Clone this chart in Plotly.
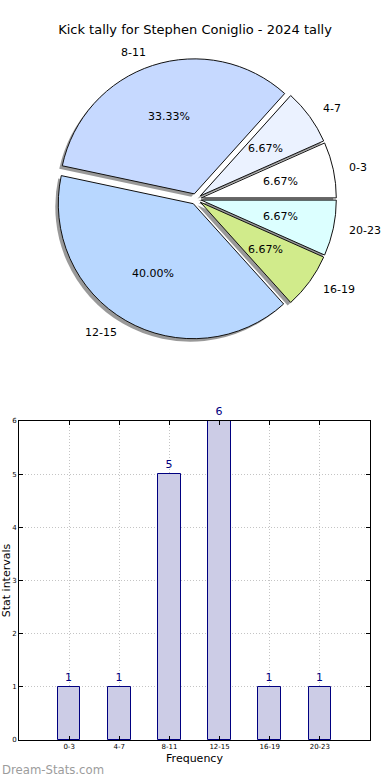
import math
import plotly.graph_objects as go

# ---- data ----
categories = ["0-3", "4-7", "8-11", "12-15", "16-19", "20-23"]
counts = [1, 1, 5, 6, 1, 1]
pie_colors = ["#ffffff", "#ebf2ff", "#c6d9ff", "#b8d7ff", "#d1eb8b", "#dcffff"]
title_text = "Kick tally for Stephen Coniglio - 2024 tally"
y_ticks = [0, 1, 2, 3, 4, 5, 6]

W, H = 390, 780
FONT = "DejaVu Sans"

# pie geometry (pixels)
cx, cy = 196.0, 199.0
R = 135.0
PULL = 0.04
half = R * (1 + PULL)


def px2paper(x, y):
    return x / W, 1 - y / H


dx0, dy0 = px2paper(cx - half, cy + half)
dx1, dy1 = px2paper(cx + half, cy - half)

total = sum(counts)
# plotly (counterclockwise) puts the end of the first slice at the rotation angle
rot = 90 - 360.0 * counts[0] / total

fig = go.Figure()

# shadow
sh = 3.0
fig.add_trace(go.Pie(
    values=counts, labels=categories, sort=False, direction="counterclockwise",
    rotation=rot, pull=[PULL] * len(counts), textinfo="none", hoverinfo="skip",
    marker=dict(colors=["rgba(70,70,70,0.55)"] * len(counts), line=dict(width=0)),
    domain=dict(x=[dx0 - sh / W, dx1 - sh / W], y=[dy0 - sh / H, dy1 - sh / H]),
    showlegend=False,
))
# pie
fig.add_trace(go.Pie(
    values=counts, labels=categories, sort=False, direction="counterclockwise",
    rotation=rot, pull=[PULL] * len(counts), textinfo="none",
    marker=dict(colors=pie_colors, line=dict(color="#111111", width=1)),
    domain=dict(x=[dx0, dx1], y=[dy0, dy1]),
    showlegend=False,
))

# labels and percentages (matplotlib-like placement)
start = 0.0
for cat, v in zip(categories, counts):
    ang = start + 360.0 * v / total / 2
    start += 360.0 * v / total
    a = math.radians(ang)
    c, s = math.cos(a), math.sin(a)
    lx, ly = cx + (1.1 + PULL) * R * c, cy - (1.1 + PULL) * R * s
    px_, py_ = cx + (0.6 + PULL) * R * c, cy - (0.6 + PULL) * R * s
    xa = "left" if c >= 0 else "right"
    X, Y = px2paper(lx, ly)
    fig.add_annotation(x=X, y=Y, xref="paper", yref="paper", text=cat, showarrow=False,
                       xanchor=xa, yanchor="middle", font=dict(family=FONT, size=11, color="#000"))
    X, Y = px2paper(px_, py_)
    fig.add_annotation(x=X, y=Y, xref="paper", yref="paper", text=f"{100.0 * v / total:.2f}%",
                       showarrow=False, xanchor="center", yanchor="middle",
                       font=dict(family=FONT, size=11, color="#000"))

# bar chart
fig.add_trace(go.Bar(
    x=categories, y=counts, width=0.45, text=[str(v) for v in counts],
    textposition="outside", cliponaxis=False,
    textfont=dict(family=FONT, size=11, color="#000080"),
    marker=dict(color="#cccce6", line=dict(color="#000080", width=1)),
    showlegend=False,
))

GRID = dict(showgrid=True, gridcolor="#c4c4c4", griddash="1px,2px", gridwidth=1)

fig.update_layout(
    width=W, height=H,
    margin=dict(l=0, r=0, t=0, b=0, autoexpand=False),
    paper_bgcolor="white", plot_bgcolor="white",
    font=dict(family=FONT, color="#000"),
    title=dict(text=title_text, x=0.5, xanchor="center", y=1 - 29 / H, yanchor="middle",
               yref="container", automargin=False,
               font=dict(family=FONT, size=13, color="#000")),
    xaxis=dict(
        domain=[19 / W, 370 / W], type="category", range=[-1, 6], automargin=False,
        showline=True, linecolor="#000", linewidth=1, mirror="allticks",
        ticks="inside", ticklen=4, tickcolor="#000", **GRID,
        tickfont=dict(family=FONT, size=7, color="#000"),
        title=dict(text="Frequency", font=dict(family=FONT, size=11), standoff=3),
        zeroline=False,
    ),
    yaxis=dict(
        domain=[1 - 740 / H, 1 - 421 / H], range=[0, 6], tickvals=y_ticks, automargin=False,
        showline=True, linecolor="#000", linewidth=1, mirror="allticks",
        ticks="inside", ticklen=4, tickcolor="#000", **GRID,
        tickfont=dict(family=FONT, size=7, color="#000"),
        title=dict(text="Stat intervals", font=dict(family=FONT, size=11), standoff=1),
        zeroline=False,
    ),
    bargap=0,
)

fig.add_annotation(x=0, y=1 - 770 / H, xref="paper", yref="paper", text="Dream-Stats.com",
                   showarrow=False, xanchor="left", yanchor="middle",
                   font=dict(family=FONT, size=11.7, color="#9c9c9c"))

fig.write_html("out.html", config={"displayModeBar": False},
               post_script="document.body.style.margin='0';document.body.style.overflow='hidden';")
